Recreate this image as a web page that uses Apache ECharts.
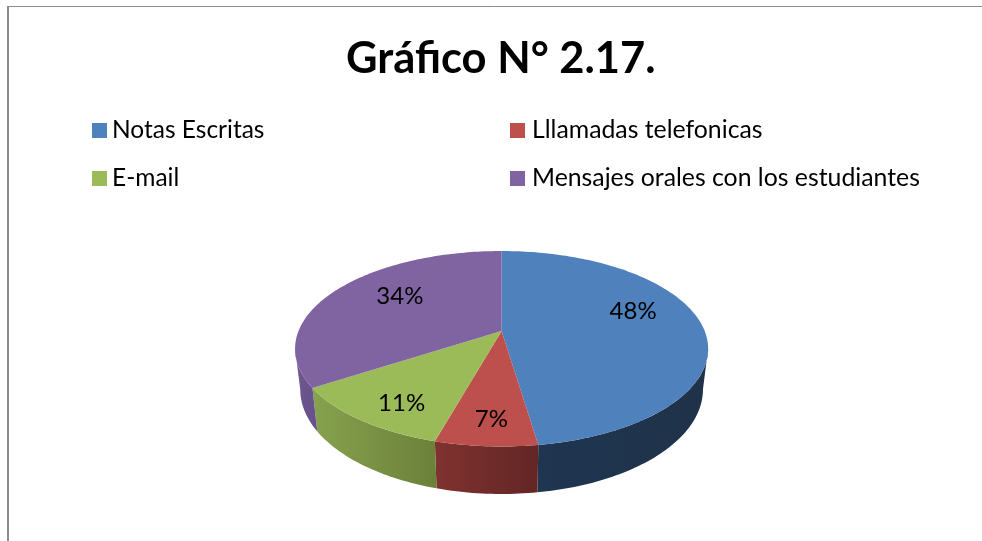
<!DOCTYPE html>
<html><head><meta charset="utf-8">
<style>html,body{margin:0;padding:0;background:#fff}#c{width:982px;height:541px}</style>
<script src="https://cdn.jsdelivr.net/npm/echarts@6/dist/echarts.min.js"></script>
</head><body><div id="c"></div>
<script>
const titleText = 'Gráfico N° 2.17.';
const categories = ['Notas Escritas', 'Lllamadas telefonicas', 'E-mail', 'Mensajes orales con los estudiantes'];
const values = [47.63, 6.74, 11.48, 34.15];
const topColors = ['#4f81bd', '#bd4f4c', '#9bbb59', '#8064a2'];
const wallColors = [['#1f3550', '#1f3249'], ['#80322f', '#622625'], ['#86a24e', '#6b8039'], ['#6f5890', '#66508a']];
const labelFit = [[0.655, 15], [0.70, -13], [0.74, -9], [0.60, 9]];

const FONT = 'Lato, Carlito, sans-serif';
const CX = 501.6, APEX_Y = 331, BACK = 34.4, K = 0.1816, R = 203.1;
const SX = 0.975, DEPTH = 47.5, DEPTH_SLOPE = 0.0714, FRONT_Y = 446.5;
const EDGE = Math.asin(K);
const total = values.reduce((a, b) => a + b, 0);

function project(theta, f) {
  const s = Math.sin(theta) * f, c = Math.cos(theta) * f, w = 1 + K * c;
  return [CX + R * s / w, (APEX_Y - BACK * c) / w];
}
function lower(p) {
  return [CX + (p[0] - CX) * SX, p[1] + DEPTH + DEPTH_SLOPE * (p[1] - FRONT_Y)];
}
function arc(a, b) {
  const n = Math.max(2, Math.ceil((b - a) / 0.02)), pts = [];
  for (let i = 0; i <= n; i++) pts.push(project(a + (b - a) * i / n, 1));
  return pts;
}
function sliceItem(i) {
  return function (params, api) {
    const before = values.slice(0, i).reduce((a, b) => a + b, 0);
    const a = before / total * 2 * Math.PI;
    const b = a + api.value(0) / total * 2 * Math.PI;
    const children = [];
    const wa = Math.max(a, Math.PI / 2 + EDGE), wb = Math.min(b, 3 * Math.PI / 2 - EDGE);
    if (wb > wa) {
      const rim = arc(wa, wb);
      const wallPts = rim.concat(rim.map(lower).reverse());
      children.push({
        type: 'polygon', shape: { points: wallPts },
        style: {
          fill: new echarts.graphic.LinearGradient(0, 0, 1, 0, [
            { offset: 0, color: wallColors[i][0] }, { offset: 1, color: wallColors[i][1] }
          ])
        }
      });
    }
    children.push({
      type: 'polygon',
      shape: { points: [[CX, APEX_Y]].concat(arc(a, b)) },
      style: { fill: topColors[i] }
    });
    const mid = (a + b) / 2, lp = project(mid, labelFit[i][0]);
    children.push({
      type: 'text', z2: 10,
      style: {
        text: Math.round(api.value(0)) + '%', x: lp[0], y: lp[1] - labelFit[i][1],
        align: 'center', verticalAlign: 'middle', fill: '#000',
        font: '24px ' + FONT
      }
    });
    return { type: 'group', children };
  };
}
function legendOf(names, left, size, gap) {
  return {
    orient: 'vertical', left, top: 113, itemWidth: 15, itemHeight: 15, itemGap: 23,
    icon: 'rect', data: names, selectedMode: false,
    textStyle: { fontFamily: FONT, fontSize: size, color: '#000', padding: [0, 0, 0, gap] }
  };
}
const chart = echarts.init(document.getElementById('c'), null, { renderer: 'canvas' });
chart.setOption({
  animation: false,
  backgroundColor: '#fff',
  title: {
    text: titleText, left: 341, top: 32,
    textStyle: { fontFamily: FONT, fontSize: 43.5, fontWeight: 'bold', color: '#000' }
  },
  legend: [legendOf([categories[0], categories[2]], 87, 24.5, 0), legendOf([categories[1], categories[3]], 505, 24.8, 2)],
  graphic: [
    { type: 'line', silent: true, shape: { x1: 8, y1: 6, x2: 8, y2: 541 }, style: { stroke: '#8c8c8c', lineWidth: 2 } },
    { type: 'line', silent: true, shape: { x1: 7, y1: 6.5, x2: 982, y2: 6.5 }, style: { stroke: '#8c8c8c', lineWidth: 1 } }
  ],
  series: categories.map((name, i) => ({
    type: 'custom', name, coordinateSystem: 'none', silent: true,
    itemStyle: { color: topColors[i] },
    renderItem: sliceItem(i), data: [[values[i]]]
  }))
});
</script></body></html>
